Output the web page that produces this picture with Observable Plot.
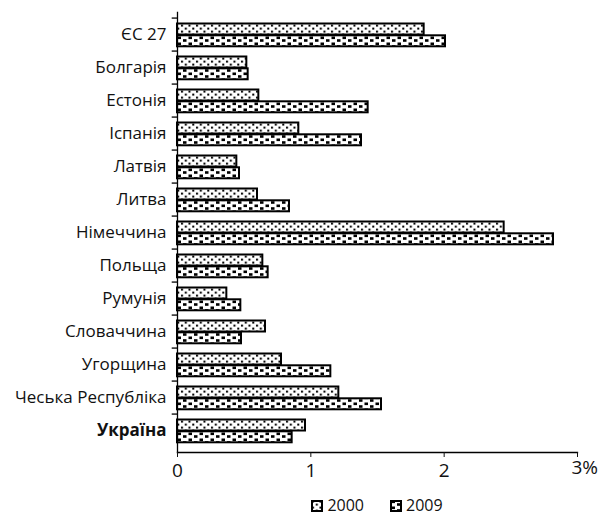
<!DOCTYPE html>
<html>
<head>
<meta charset="utf-8">
<script src="https://cdn.jsdelivr.net/npm/d3@7"></script>
<script src="https://cdn.jsdelivr.net/npm/@observablehq/plot@0.6"></script>
<style>
  body { margin: 0; background: #fff; font-family: "Open Sans", sans-serif; }
  #chart { width: 612px; }
  .legend { padding-left: 177px; width: 400px; text-align: center; font-size: 16px; color: #111; margin-top: 8px; }
  .legend span.item { display: inline-block; margin: 0 13px; }
  .legend svg { vertical-align: -1px; margin-right: 4px; }
</style>
</head>
<body>
<div id="chart"></div>
<script>
const categories = ["ЄС 27","Болгарія","Естонія","Іспанія","Латвія","Литва","Німеччина","Польща","Румунія","Словаччина","Угорщина","Чеська Республіка","Україна"];
const values2000 = [1.85,0.52,0.61,0.91,0.445,0.60,2.45,0.64,0.37,0.66,0.78,1.21,0.96];
const values2009 = [2.01,0.53,1.43,1.38,0.465,0.84,2.82,0.68,0.475,0.48,1.15,1.53,0.86];
const years = ["2000","2009"];
const xTicks = [0,1,2,3];
const boldCategory = "Україна";

const data2000 = categories.map((c,i) => ({category: c, value: values2000[i], year: years[0]}));
const data2009 = categories.map((c,i) => ({category: c, value: values2009[i], year: years[1]}));

const H = 486, MT = 12, MB = 34;
const bw = (H - MT - MB) / categories.length;

const patternDefs = `
<pattern id="p2000" patternUnits="userSpaceOnUse" width="7.5" height="6">
  <rect width="7.5" height="6" fill="white"/>
  <rect x="1" y="0.6" width="2" height="2" fill="black"/>
  <rect x="4.8" y="3.6" width="2" height="2" fill="black"/>
</pattern>
<pattern id="p2009" patternUnits="userSpaceOnUse" width="11" height="6">
  <rect width="11" height="6" fill="white"/>
  <rect x="1.5" y="0.5" width="3.5" height="2.6" fill="black"/>
  <rect x="7" y="3.2" width="3.5" height="2.6" fill="black"/>
</pattern>`;

const plot = Plot.plot({
  width: 612, height: H,
  marginTop: MT, marginBottom: MB, marginLeft: 177, marginRight: 35,
  style: {fontFamily: "Open Sans, sans-serif", fontSize: "17px", color: "#111", background: "white"},
  x: {domain: [0, 3]},
  y: {domain: categories, padding: 0},
  marks: [
    Plot.barX(data2000, {x: "value", y: "category", fill: "url(#p2000)", stroke: "black", strokeWidth: 2, insetTop: 5.5, insetBottom: 16.5}),
    Plot.barX(data2009, {x: "value", y: "category", fill: "url(#p2009)", stroke: "black", strokeWidth: 2, insetTop: 17.3, insetBottom: 4.7}),
    Plot.frame({anchor: "left", stroke: "black", strokeWidth: 1.3}),
    Plot.frame({anchor: "bottom", stroke: "black", strokeWidth: 1.3}),
    Plot.ruleY(categories, {y: d => d, x1: 0, x2: 0.04, dx: -5.3, dy: -bw/2, stroke: "black", strokeWidth: 1.3}),
    Plot.axisY(categories.filter(c => c !== boldCategory), {tickSize: 0, tickPadding: 11, label: null, fontSize: 17}),
    Plot.axisY([boldCategory], {tickSize: 0, tickPadding: 11, label: null, fontSize: 17, fontWeight: "bold"}),
    Plot.axisX(xTicks, {tickSize: 5, tickPadding: 6, label: null, fontSize: 19, tickFormat: d => d === 3 ? "" : String(d)}),
    Plot.text([3], {x: d => d, text: d => d + "%", frameAnchor: "bottom", textAnchor: "start", dx: -6, dy: 21, fontSize: 19})
  ]
});
d3.select(plot).insert("defs", ":first-child").html(patternDefs);
document.getElementById("chart").appendChild(plot);

const legend = document.createElement("div");
legend.className = "legend";
legend.innerHTML = years.map((y, i) => `<span class="item"><svg width="12" height="12"><rect x="1" y="1" width="10" height="10" fill="url(#p${y})" stroke="black" stroke-width="2"/></svg>${y}</span>`).join("");
document.getElementById("chart").appendChild(legend);
</script>
</body>
</html>
